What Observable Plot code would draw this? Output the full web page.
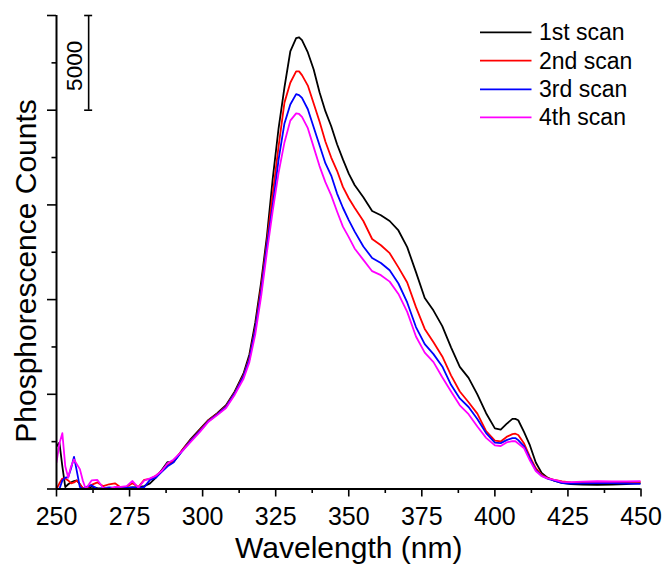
<!DOCTYPE html>
<html>
<head>
<meta charset="utf-8">
<script src="https://cdn.jsdelivr.net/npm/d3@7"></script>
<script src="https://cdn.jsdelivr.net/npm/@observablehq/plot@0.6"></script>
<style>
  html, body { margin: 0; padding: 0; background: #fff; }
  #chart { width: 665px; height: 579px; }
</style>
</head>
<body>
<div id="chart"></div>
<script>
const wavelengths = [
  250,251,252,253,254,255,256,257,258,259,260,262,264,266,268,270,272,274,276,278,
  280,282,284,286,288,290,293,296,299,302,305,308,311,314,316,318,320,322,324,326,
  328,330,332,333,334,336,338,340,342,344,346,348,350,352,355,358,361,364,367,370,
  373,376,379,382,385,388,391,394,397,400,402,404,406,407,408,410,412,414,416,418,
  420,423,426,430,435,440,445,450
];
const scan1 = [
  2250,2450,1200,100,250,350,420,450,250,0,0,120,50,0,20,50,40,60,80,100,
  150,300,600,1000,1420,1420,2050,2650,3150,3650,4000,4420,5150,6100,7100,8770,10900,13350,16400,19060,
  21200,23100,23800,23850,23700,23050,22150,20950,19950,19150,18200,17400,16650,16050,15400,14680,14450,14150,13650,12770,
  11450,10080,9420,8600,7480,6450,5870,5000,4000,3200,3140,3440,3700,3700,3630,3000,2300,1400,850,600,
  460,320,260,230,220,230,260,310
];
const scan2 = [
  0,300,550,560,450,300,350,450,250,50,0,220,350,150,250,300,80,120,300,100,
  480,530,700,950,1250,1450,2050,2600,3100,3620,3970,4370,5090,6010,6930,8500,10630,13050,15600,18100,
  20400,21450,22050,22050,21850,21300,20350,19400,18350,17500,16800,15950,15350,14850,14150,13200,12870,12450,11700,10900,
  9600,8450,7750,7000,6000,5150,4580,3980,3050,2550,2510,2750,2900,2920,2850,2400,1700,1100,750,580,
  490,400,350,340,345,355,365,380
];
const scan3 = [
  0,0,450,600,620,1100,1700,900,100,0,100,200,0,50,90,60,40,60,80,60,
  100,480,600,900,1200,1400,2000,2550,3050,3580,3940,4330,5050,5950,6850,8400,10400,12850,15000,17400,
  19300,20300,20850,20800,20650,20050,19100,18150,17200,16550,15600,14850,14200,13600,12800,12200,11930,11550,10850,9850,
  8550,7650,7120,6470,5500,4780,4330,3700,2950,2450,2420,2580,2690,2690,2580,2250,1600,1000,700,550,
  450,310,280,300,306,306,290,275
];
const scan4 = [
  1410,2400,2950,1200,600,1200,1560,1300,1050,450,0,450,480,50,0,110,110,150,420,70,
  450,560,700,950,1360,1550,2000,2500,3000,3550,3900,4280,4980,5820,6700,8150,10150,12500,14700,16700,
  18300,19450,19830,19800,19650,19050,18050,17050,16200,15500,14650,13850,13300,12700,12100,11500,11290,10950,10300,9350,
  8050,7200,6700,5900,5150,4420,3950,3300,2700,2300,2270,2460,2530,2520,2400,2150,1500,950,680,560,
  490,380,360,390,410,396,400,412
];
const seriesNames = ["1st scan", "2nd scan", "3rd scan", "4th scan"];
const seriesColors = ["#000000", "#ff0000", "#0000ff", "#ff00ff"];
const xTicks = [250, 275, 300, 325, 350, 375, 400, 425, 450];
const xMinorTicks = [262.5, 287.5, 312.5, 337.5, 362.5, 387.5, 412.5, 437.5];
const yTicks = [0, 5000, 10000, 15000, 20000, 25000];
const yMinorTicks = [2500, 7500, 12500, 17500, 22500];
const scaleBarX = 261;
const scaleBarRange = [20000, 25000];
const scaleBarLabel = "5000";
const xLabel = "Wavelength (nm)";
const yLabel = "Phosphorescence Counts";

const allSeries = [scan1, scan2, scan3, scan4];
allSeries.forEach((s, i) => { if (s.length !== wavelengths.length) throw new Error("length mismatch in series " + i + ": " + s.length); });

const rows = seriesNames.flatMap((name, si) =>
  wavelengths.map((w, i) => ({ w, v: allSeries[si][i], series: name }))
);

const font = "'Liberation Sans', Arial, Helvetica, sans-serif";

const plot = Plot.plot({
  width: 665,
  height: 579,
  marginLeft: 56,
  marginRight: 24.5,
  marginTop: 15,
  marginBottom: 90.5,
  style: { fontFamily: font, background: "#fff", color: "#000", overflow: "visible" },
  x: { domain: [250, 450] },
  y: { domain: [0, 25000] },
  color: { domain: seriesNames, range: seriesColors },
  marks: [
    Plot.axisX({ ticks: xTicks, tickSize: 8, tickPadding: 10.5, fontSize: 25, strokeWidth: 1.6, label: null, tickFormat: d => String(d) }),
    Plot.axisX({ ticks: xMinorTicks, tickSize: 4.5, strokeWidth: 1.6, label: null, tickFormat: () => "" }),
    Plot.axisY({ ticks: yTicks, tickSize: 9, strokeWidth: 1.6, label: null, tickFormat: () => "" }),
    Plot.axisY({ ticks: yMinorTicks, tickSize: 4.5, strokeWidth: 1.6, label: null, tickFormat: () => "" }),
    Plot.line(rows, { x: "w", y: "v", z: "series", stroke: "series", strokeWidth: 1.8, clip: true }),
    Plot.ruleY([0], { stroke: "#000", strokeWidth: 2 }),
    Plot.ruleX([250], { stroke: "#000", strokeWidth: 2 }),
    Plot.ruleX([scaleBarX], { y1: scaleBarRange[0], y2: scaleBarRange[1], stroke: "#000", strokeWidth: 1.6 }),
    Plot.ruleY(scaleBarRange, { x1: () => scaleBarX, x2: () => scaleBarX, insetLeft: -4, insetRight: -4, stroke: "#000", strokeWidth: 1.6 }),
    Plot.text([scaleBarLabel], { x: scaleBarX, y: (scaleBarRange[0] + scaleBarRange[1]) / 2, rotate: -90, dx: -13.5, dy: 3, fontSize: 22.5, fill: "#000", textAnchor: "middle" }),
    Plot.text([xLabel], { frameAnchor: "bottom", dy: 69, fontSize: 30, fill: "#000", textAnchor: "middle" }),
    Plot.text([yLabel], { frameAnchor: "left", rotate: -90, dx: -30.6, dy: 18.7, fontSize: 30, fill: "#000", textAnchor: "middle" })
  ]
});

// Legend (top right)
const svg = d3.select(plot);
const legend = svg.append("g")
  .attr("font-family", font)
  .attr("font-size", 23)
  .attr("text-anchor", "start")
  .style("font-size", "23px")
  .style("text-anchor", "start");
const rowY = [32.3, 60.7, 89.3, 117.3];
seriesNames.forEach((name, i) => {
  legend.append("line")
    .attr("x1", 480).attr("x2", 531.5)
    .attr("y1", rowY[i]).attr("y2", rowY[i])
    .attr("stroke", seriesColors[i]).attr("stroke-width", 1.8);
  legend.append("text")
    .attr("x", 539).attr("y", rowY[i]).attr("dy", "0.35em")
    .attr("fill", "#000")
    .style("text-anchor", "start")
    .style("font-size", "23px")
    .text(name);
});

document.getElementById("chart").appendChild(plot);
</script>
</body>
</html>
